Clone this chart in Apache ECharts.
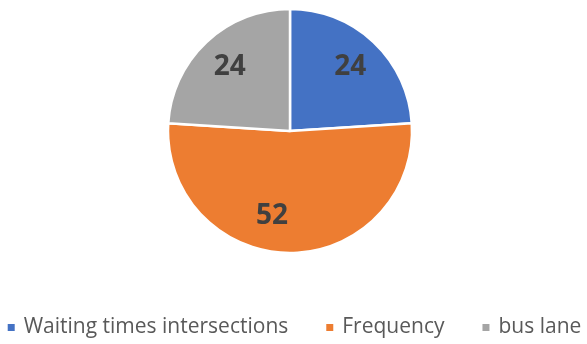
<!DOCTYPE html>
<html>
<head>
<meta charset="utf-8">
<script src="https://cdn.jsdelivr.net/npm/echarts@6/dist/echarts.min.js"></script>
<style>
  html, body { margin: 0; padding: 0; background: #fff; }
  #chart { width: 587px; height: 344px; }
</style>
</head>
<body>
<div id="chart"></div>
<script>
// Share of responses per issue
const categories = ['Waiting times intersections', 'Frequency', 'bus lane'];
const values = [24, 52, 24];
const colors = ['#4472C4', '#ED7D31', '#A5A5A5'];

const data = categories.map((name, i) => ({
  name: name,
  value: values[i],
  itemStyle: { color: colors[i] }
}));

const center = [290, 131];
const chart = echarts.init(document.getElementById('chart'), null, { renderer: 'canvas' });
chart.setOption({
  animation: false,
  color: colors,
  legend: {
    top: 312,
    left: 'center',
    icon: 'rect',
    itemWidth: 9,
    itemHeight: 9,
    itemGap: 36,
    selectedMode: false,
    textStyle: {
      fontFamily: 'Open Sans',
      fontSize: 21,
      color: '#595959',
      padding: [0, 0, 0, 3]
    },
    data: categories
  },
  series: [
    {
      type: 'pie',
      center: center,
      radius: [0, 122],
      startAngle: 90,
      clockwise: true,
      silent: true,
      itemStyle: { borderColor: '#fff', borderWidth: 2.5 },
      label: { show: false },
      labelLine: { show: false },
      data: data
    },
    {
      // label ring: places the value text at ~70% of the radius
      type: 'pie',
      center: center,
      radius: [48, 122],
      startAngle: 90,
      clockwise: true,
      silent: true,
      itemStyle: { color: 'rgba(0,0,0,0)', borderWidth: 0 },
      label: {
        show: true,
        position: 'inside',
        formatter: '{c}',
        fontFamily: 'Open Sans',
        fontWeight: 'bold',
        fontSize: 28,
        color: '#404040'
      },
      labelLine: { show: false },
      labelLayout: function (params) {
        // nudge the large slice's value label off the vertical axis
        return params.dataIndex === 1 ? { dx: -18, dy: -3 } : {};
      },
      data: categories.map((name, i) => ({ name: name, value: values[i] }))
    }
  ]
});
</script>
</body>
</html>
